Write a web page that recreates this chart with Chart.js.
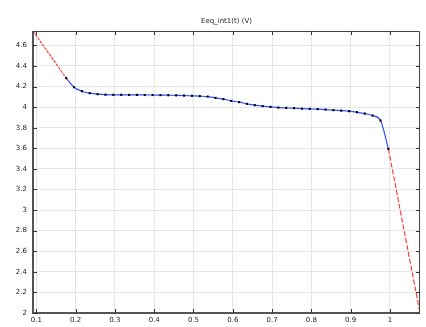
<!DOCTYPE html>
<html>
<head>
<meta charset="utf-8">
<script src="https://cdn.jsdelivr.net/npm/chart.js@4"></script>
<style>
  html, body { margin: 0; padding: 0; background: #fff; }
  #chart { display: block; }
</style>
</head>
<body>
<canvas id="chart" width="426" height="327"></canvas>
<script>
// Dati
const titleText = 'Eeq_int1(t) (V)';
const sampleX = [0.176, 0.196, 0.216, 0.236, 0.256, 0.276, 0.296, 0.316, 0.336, 0.356,
  0.376, 0.396, 0.416, 0.436, 0.456, 0.476, 0.496, 0.516, 0.536, 0.556,
  0.576, 0.596, 0.616, 0.636, 0.656, 0.676, 0.696, 0.716, 0.736, 0.756,
  0.776, 0.796, 0.816, 0.836, 0.856, 0.876, 0.896, 0.916, 0.936, 0.956,
  0.976, 0.996];
const sampleY = [4.282, 4.194, 4.155, 4.136, 4.126, 4.121, 4.120, 4.120, 4.119, 4.119,
  4.118, 4.118, 4.117, 4.116, 4.115, 4.113, 4.110, 4.107, 4.103, 4.090,
  4.078, 4.061, 4.049, 4.032, 4.019, 4.010, 4.003, 3.996, 3.993, 3.990,
  3.986, 3.983, 3.981, 3.977, 3.971, 3.967, 3.961, 3.951, 3.938, 3.918,
  3.870, 3.595];
// Estrapolazioni (tratteggio rosso)
const leftExtX = [0.0915, 0.176];
const leftExtY = [4.74, 4.282];
const rightExtX = [0.996, 1.0765];
const rightExtY = [3.595, 2.0];
// Tacche degli assi
const xTicks = [0.1, 0.2, 0.3, 0.4, 0.5, 0.6, 0.7, 0.8, 0.9, 1];
const yTicks = [2, 2.2, 2.4, 2.6, 2.8, 3, 3.2, 3.4, 3.6, 3.8, 4, 4.2, 4.4, 4.6];

const toPoints = (xs, ys) => xs.map((x, i) => ({ x: x, y: ys[i] }));

// Titolo centrato sull'area del grafico
const titlePlugin = {
  id: 'plotTitle',
  afterDraw(chart) {
    const { ctx, chartArea: a } = chart;
    ctx.save();
    ctx.fillStyle = '#222';
    ctx.font = '7px "DejaVu Sans"';
    ctx.textAlign = 'center';
    ctx.textBaseline = 'middle';
    ctx.fillText(titleText, (a.left + a.right) / 2, 21);
    ctx.restore();
  }
};

// Cornice e tacche interne su tutti i lati
const framePlugin = {
  id: 'frame',
  afterDatasetsDraw(chart) {
    const { ctx, chartArea: a, scales } = chart;
    ctx.save();
    ctx.strokeStyle = '#444';
    ctx.lineWidth = 1;
    ctx.beginPath();
    ctx.moveTo(a.left, a.top + 0.5);
    ctx.lineTo(a.right - 0.5, a.top + 0.5);
    ctx.lineTo(a.right - 0.5, a.bottom);
    ctx.stroke();
    ctx.lineWidth = 2;
    ctx.strokeStyle = '#555';
    ctx.beginPath();
    ctx.moveTo(a.left, a.top);
    ctx.lineTo(a.left, a.bottom);
    ctx.lineTo(a.right, a.bottom);
    ctx.stroke();
    ctx.lineWidth = 1;
    ctx.strokeStyle = '#333';
    ctx.beginPath();
    const t = 4;
    xTicks.forEach(v => {
      const px = Math.round(scales.x.getPixelForValue(v)) + 0.5;
      ctx.moveTo(px, a.top); ctx.lineTo(px, a.top + t);
      ctx.moveTo(px, a.bottom); ctx.lineTo(px, a.bottom - t);
    });
    yTicks.forEach(v => {
      const py = Math.round(scales.y.getPixelForValue(v)) + 0.5;
      ctx.moveTo(a.left, py); ctx.lineTo(a.left + t, py);
      ctx.moveTo(a.right, py); ctx.lineTo(a.right - t, py);
    });
    ctx.stroke();
    ctx.restore();
  }
};

const config = {
  type: 'scatter',
  data: {
    datasets: [
      {
        data: toPoints(leftExtX, leftExtY),
        showLine: true,
        borderColor: '#ff3030',
        borderWidth: 1.1,
        borderDash: [3, 1],
        pointRadius: 0,
        order: 2
      },
      {
        data: toPoints(rightExtX, rightExtY),
        showLine: true,
        borderColor: '#ff3030',
        borderWidth: 1.1,
        borderDash: [5, 2],
        pointRadius: 0,
        order: 2
      },
      {
        data: toPoints(sampleX, sampleY),
        showLine: true,
        borderColor: '#3050ff',
        borderWidth: 1.2,
        cubicInterpolationMode: 'monotone',
        pointRadius: 0,
        order: 1
      },
      {
        data: toPoints(sampleX, sampleY),
        showLine: false,
        pointStyle: 'rect',
        pointRadius: 1.5,
        pointBackgroundColor: '#000',
        pointBorderColor: '#000',
        pointBorderWidth: 0,
        order: 0
      }
    ]
  },
  options: {
    responsive: false,
    animation: false,
    layout: { padding: { left: 0, right: 6, top: 31, bottom: 0 } },
    plugins: {
      legend: { display: false },
      tooltip: { enabled: false },
      title: { display: false }
    },
    scales: {
      x: {
        type: 'linear',
        min: 0.0915,
        max: 1.0765,
        afterBuildTicks: s => { s.ticks = xTicks.map(v => ({ value: v })); },
        afterFit: s => { s.height = 14; },
        grid: { color: '#e6e6e6', drawTicks: false },
        border: { display: false },
        ticks: {
          color: '#222',
          padding: 3,
          maxRotation: 0,
          autoSkip: false,
          font: { family: 'DejaVu Sans', size: 7 },
          callback: v => String(v)
        }
      },
      y: {
        type: 'linear',
        min: 2,
        max: 4.74,
        afterBuildTicks: s => { s.ticks = yTicks.map(v => ({ value: v })); },
        afterFit: s => { s.width = 33; },
        grid: { color: '#e6e6e6', drawTicks: false },
        border: { display: false },
        ticks: {
          color: '#222',
          padding: 6,
          autoSkip: false,
          font: { family: 'DejaVu Sans', size: 7 },
          callback: v => String(Math.round(v * 10) / 10)
        }
      }
    }
  },
  plugins: [framePlugin, titlePlugin]
};

const ctx = document.getElementById('chart').getContext('2d');
const chart = new Chart(ctx, config);
</script>
</body>
</html>
